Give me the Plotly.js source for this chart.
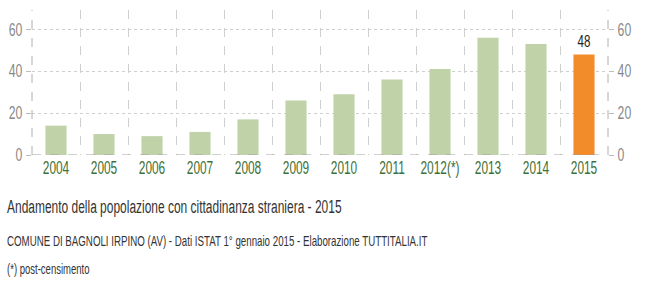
<!DOCTYPE html>
<html><head><meta charset="utf-8">
<script src="https://cdn.plot.ly/plotly-3.0.1.min.js"></script>
<style>html,body{margin:0;padding:0;background:#fff;}#chart{width:647px;height:302px;}</style>
</head><body><div id="chart"></div>
<script>
const categories = ['2004','2005','2006','2007','2008','2009','2010','2011','2012(*)','2013','2014','2015'];
const values = [14,10,9,11,17,26,29,36,41,56,53,48];
const labels = ['','','','','','','','','','','','48'];
const yTicks = [0,20,40,60];
const titleText = 'Andamento della popolazione con cittadinanza straniera - 2015';
const subtitleText = 'COMUNE DI BAGNOLI IRPINO (AV) - Dati ISTAT 1° gennaio 2015 - Elaborazione TUTTITALIA.IT';
const noteText = '(*) post-censimento';

const F = 'Liberation Sans, Arial, sans-serif';
const SQUEEZE = 0.68;
const colors = values.map((v,i)=> i===values.length-1 ? '#f28c2b' : '#bfd2a8');
const yr = [0, 69.2];

const data = [{
  type:'bar', x:categories, y:values, marker:{color:colors}, width:0.44,
  text:labels, textposition:'outside', cliponaxis:false,
  textfont:{family:F, size:17, color:'#222'}, hoverinfo:'none'
},{
  type:'bar', x:categories, y:values.map(()=>0), yaxis:'y2', showlegend:false, hoverinfo:'none'
}];

const layout = {
  width:647, height:302, margin:{l:32, r:39, t:10, b:147},
  paper_bgcolor:'#fff', plot_bgcolor:'#fff', showlegend:false,
  xaxis:{type:'category', tickson:'boundaries', showgrid:true, gridcolor:'#cfcfcf', griddash:'dash', gridwidth:1,
    ticks:'', showline:false, zeroline:false, range:[-0.5,11.5], tickangle:0,
    tickfont:{family:F, size:17.5, color:'#3f6f35'}},
  yaxis:{range:yr, tickvals:yTicks, showgrid:true, gridcolor:'#cfcfcf', griddash:'dot', zeroline:false,
    ticks:'outside', ticklen:5, tickcolor:'#bbb', tickfont:{family:F, size:18, color:'#888'}, showline:false},
  yaxis2:{range:yr, tickvals:yTicks, overlaying:'y', side:'right', showgrid:false, zeroline:false,
    ticks:'outside', ticklen:5, tickcolor:'#bbb', tickfont:{family:F, size:18, color:'#888'}, showline:false},
  shapes:[
    {type:'line', xref:'paper', yref:'paper', x0:0, x1:0, y0:0, y1:1, line:{color:'#b0b0b0', width:1, dash:'dash'}},
    {type:'line', xref:'paper', yref:'paper', x0:1, x1:1, y0:0, y1:1, line:{color:'#b0b0b0', width:1, dash:'dash'}},
    {type:'line', xref:'paper', yref:'y', x0:0, x1:1, y0:0, y1:0, line:{color:'#a0a0a0', width:1, dash:'dash'}}
  ],
  annotations:[
    {xref:'paper', yref:'paper', x:-27/576, y:0, yshift:-40, xanchor:'left', yanchor:'top', showarrow:false,
     text:titleText, font:{family:F, size:17.6, color:'#333'}},
    {xref:'paper', yref:'paper', x:-27/576, y:0, yshift:-76, xanchor:'left', yanchor:'top', showarrow:false,
     text:subtitleText, font:{family:F, size:14.3, color:'#333'}},
    {xref:'paper', yref:'paper', x:-27/576, y:0, yshift:-104, xanchor:'left', yanchor:'top', showarrow:false,
     text:noteText, font:{family:F, size:14, color:'#333'}}
  ]
};
Plotly.newPlot('chart', data, layout, {displayModeBar:false, staticPlot:true}).then(()=>{
  document.querySelectorAll('#chart svg text').forEach(t=>{
    const w = t.getComputedTextLength();
    if (!w) return;
    const isAnn = t.classList.contains('annotation-text');
    let left = null;
    if (isAnn) left = t.getBBox().x;
    t.setAttribute('textLength', (w*SQUEEZE).toFixed(2));
    t.setAttribute('lengthAdjust', 'spacingAndGlyphs');
    if (isAnn) { t.setAttribute('text-anchor','start'); t.setAttribute('x', left); }
  });
});
</script></body></html>
